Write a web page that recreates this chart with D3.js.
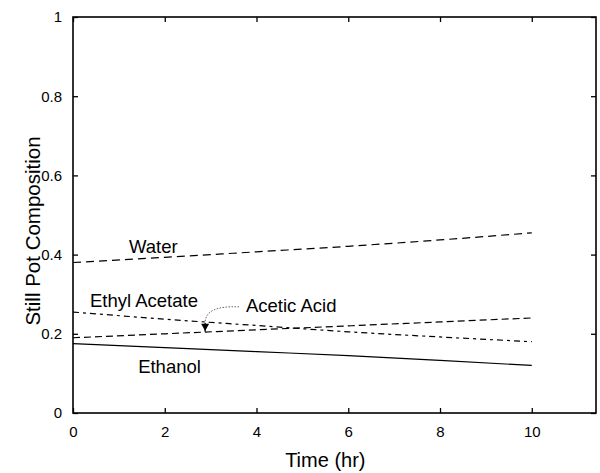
<!DOCTYPE html>
<html>
<head>
<meta charset="utf-8">
<script src="https://d3js.org/d3.v7.min.js"></script>
<style>
  body { margin: 0; background: #fff; }
  text { font-family: "Liberation Sans", Arial, sans-serif; fill: #000; }
</style>
</head>
<body>
<svg width="600" height="473"></svg>
<script>
// data
let times = [0, 2, 4, 6, 8, 10];
let water = [0.380, 0.393, 0.407, 0.421, 0.437, 0.455];
let ethylAcetate = [0.255, 0.237, 0.221, 0.205, 0.192, 0.180];
let aceticAcid = [0.190, 0.200, 0.210, 0.220, 0.230, 0.240];
let ethanol = [0.175, 0.165, 0.155, 0.145, 0.133, 0.120];
let xTicks = [0, 2, 4, 6, 8, 10];
let yTicks = [0, 0.2, 0.4, 0.6, 0.8, 1];

let margin = {left: 73, right: 4, top: 17, bottom: 60};
const width = 600 - margin.left - margin.right;
const height = 473 - margin.top - margin.bottom;

let svg = d3.select('svg');
let g = svg.append('g')
    .attr('transform', 'translate(' + margin.left + ',' + margin.top + ')');

let xScale = d3.scaleLinear().domain([0, 11.4]).range([0, width]);
let yScale = d3.scaleLinear().domain([0, 1]).range([height, 0]);

// axes, ticks pointing inward on all four sides
g.append('g')
    .attr('transform', 'translate(0,' + height + ')')
    .call(d3.axisBottom(xScale).tickValues(xTicks).tickSize(-5).tickPadding(13).tickFormat(d => String(d)))
    .call(a => a.select('.domain').remove());
g.append('g')
    .call(d3.axisTop(xScale).tickValues(xTicks).tickSize(-5).tickFormat(''))
    .call(a => a.select('.domain').remove());
g.append('g')
    .call(d3.axisLeft(yScale).tickValues(yTicks).tickSize(-5).tickPadding(11).tickFormat(d => String(d)))
    .call(a => a.select('.domain').remove());
g.append('g')
    .attr('transform', 'translate(' + width + ',0)')
    .call(d3.axisRight(yScale).tickValues(yTicks).tickSize(-5).tickFormat(''))
    .call(a => a.select('.domain').remove());

g.selectAll('.tick line').attr('stroke', '#000').attr('stroke-width', 1.3);
g.selectAll('.tick text').style('font-size', '15px');

g.append('rect')
    .attr('width', width).attr('height', height)
    .attr('fill', 'none').attr('stroke', '#000').attr('stroke-width', 1.6);

// lines
let series = [
    {name: 'Water', values: water, dash: '8,5'},
    {name: 'Ethyl Acetate', values: ethylAcetate, dash: '6,4,3,4'},
    {name: 'Acetic Acid', values: aceticAcid, dash: '7,4'},
    {name: 'Ethanol', values: ethanol, dash: null}
];
let line = d3.line()
    .x((d, i) => xScale(times[i]))
    .y(d => yScale(d))
    .curve(d3.curveMonotoneX);

g.selectAll('.series')
    .data(series)
    .enter().append('path')
    .attr('class', 'series')
    .attr('d', d => line(d.values))
    .attr('fill', 'none')
    .attr('stroke', '#000')
    .attr('stroke-width', 1.2)
    .attr('stroke-dasharray', d => d.dash);

// labels
let labels = [
    {text: 'Water', t: 1.22, v: 0.404},
    {text: 'Ethyl Acetate', t: 0.37, v: 0.268},
    {text: 'Acetic Acid', t: 3.77, v: 0.255},
    {text: 'Ethanol', t: 1.42, v: 0.101}
];
g.selectAll('.lbl')
    .data(labels)
    .enter().append('text')
    .attr('class', 'lbl')
    .attr('x', d => xScale(d.t))
    .attr('y', d => yScale(d.v))
    .style('font-size', '18.5px')
    .text(d => d.text);

// dotted pointer from "Acetic Acid" to the lines
let ax0 = xScale(3.62), ay0 = yScale(0.268);
let ax1 = xScale(2.88), ay1 = yScale(0.228);
g.append('path')
    .attr('d', `M${ax0},${ay0} C${ax0 - 22},${ay0 - 1} ${ax1},${ay0 + 4} ${ax1},${ay1}`)
    .attr('fill', 'none')
    .attr('stroke', '#555')
    .attr('stroke-width', 0.9)
    .attr('stroke-dasharray', '1.5,1.5');
g.append('line')
    .attr('x1', ax1).attr('y1', ay1)
    .attr('x2', ax1).attr('y2', yScale(0.205))
    .attr('stroke', '#000').attr('stroke-width', 1.2);
g.append('path')
    .attr('d', `M${ax1 - 4},${ay1 + 1} L${ax1 + 4},${ay1 + 1} L${ax1},${yScale(0.207)} Z`)
    .attr('fill', '#000');

// axis titles
svg.append('text')
    .attr('x', margin.left + xScale(5.5))
    .attr('y', 467)
    .attr('text-anchor', 'middle')
    .style('font-size', '20px')
    .text('Time (hr)');
svg.append('text')
    .attr('transform', 'translate(' + 40 + ',' + (margin.top + height / 2 + 16) + ') rotate(-90)')
    .attr('text-anchor', 'middle')
    .style('font-size', '20.5px')
    .text('Still Pot Composition');
</script>
</body>
</html>
